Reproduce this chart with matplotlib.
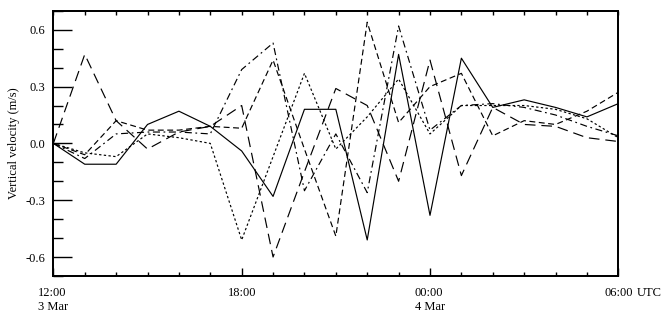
import matplotlib
matplotlib.use("Agg")
import matplotlib.pyplot as plt
from matplotlib.ticker import MultipleLocator

# hours after 12:00 UTC, 3 Mar
HOURS = list(range(19))

SOLID = [0.00, -0.11, -0.11, 0.10, 0.17, 0.09, -0.04, -0.28, 0.18, 0.18,
         -0.51, 0.47, -0.38, 0.45, 0.19, 0.23, 0.19, 0.14, 0.21]
DOTTED = [0.00, -0.05, -0.07, 0.05, 0.03, 0.00, -0.51, -0.07, 0.37, -0.03,
          0.14, 0.34, 0.05, 0.20, 0.20, 0.20, 0.18, 0.13, 0.03]
DASHDOT = [0.00, -0.08, 0.05, 0.06, 0.06, 0.05, 0.39, 0.53, -0.25, 0.05,
           -0.26, 0.62, 0.07, 0.20, 0.21, 0.19, 0.15, 0.09, 0.04]
LONGDASH = [0.00, 0.47, 0.12, -0.03, 0.06, 0.09, 0.20, -0.60, -0.15, 0.29,
            0.20, -0.20, 0.44, -0.17, 0.19, 0.10, 0.09, 0.03, 0.01]
MEDDASH = [0.00, -0.06, 0.12, 0.07, 0.07, 0.09, 0.08, 0.44, -0.03, -0.49,
           0.64, 0.11, 0.30, 0.37, 0.04, 0.12, 0.10, 0.17, 0.27]

XTICKS = [0, 6, 12, 18]
XLABELS = ["12:00\n3 Mar", "18:00", "00:00\n4 Mar", "06:00"]
YTICKS = [-0.6, -0.3, 0.0, 0.3, 0.6]

FONT = "Liberation Serif"
plt.rcParams["font.family"] = FONT

fig = plt.figure(figsize=(6.67, 3.19), dpi=100)
ax = fig.add_axes([0.080, 0.135, 0.847, 0.831])

lw = 0.85
ax.plot(HOURS, SOLID, color="black", lw=lw, linestyle="-")
ax.plot(HOURS, DOTTED, color="black", lw=lw, linestyle=(0, (2, 2)))
ax.plot(HOURS, DASHDOT, color="black", lw=lw, linestyle=(0, (6, 3, 1.5, 3)))
ax.plot(HOURS, LONGDASH, color="black", lw=lw, linestyle=(0, (9, 5)))
ax.plot(HOURS, MEDDASH, color="black", lw=lw, linestyle=(0, (5, 3)))

ax.set_xlim(0, 18)
ax.set_ylim(-0.7, 0.7)

for s in ax.spines.values():
    s.set_linewidth(1.3)

# x axis: bottom ticks (6-h major, hourly minor)
ax.set_xticks(XTICKS)
ax.set_xticklabels(XLABELS, fontsize=9, ha="center", multialignment="left")
ax.xaxis.set_minor_locator(MultipleLocator(1))
ax.tick_params(axis="x", which="major", direction="in", length=6, width=1,
               pad=8, top=False)
ax.tick_params(axis="x", which="minor", direction="in", length=3, width=1,
               top=False)

# y axis: left only
ax.set_yticks(YTICKS)
ax.set_yticklabels([f"{v:.1f}" for v in YTICKS], fontsize=9)
ax.yaxis.set_minor_locator(MultipleLocator(0.1))
ax.tick_params(axis="y", which="major", direction="in", length=14, width=1,
               right=False, pad=6)
ax.tick_params(axis="y", which="minor", direction="in", length=7, width=1,
               right=False)
ax.set_ylabel("Vertical velocity (m/s)", fontsize=9, labelpad=4)

# top axis: hourly ticks, no labels
top = ax.twiny()
top.set_xlim(ax.get_xlim())
top.set_xticks(HOURS)
top.set_xticklabels([])
top.tick_params(axis="x", direction="in", length=3, width=1)
for s in top.spines.values():
    s.set_linewidth(1.3)

fig.text(0.954, 0.135 - 0.035, "UTC", fontsize=9, ha="left", va="top")

fig.savefig("out.png", dpi=100)
